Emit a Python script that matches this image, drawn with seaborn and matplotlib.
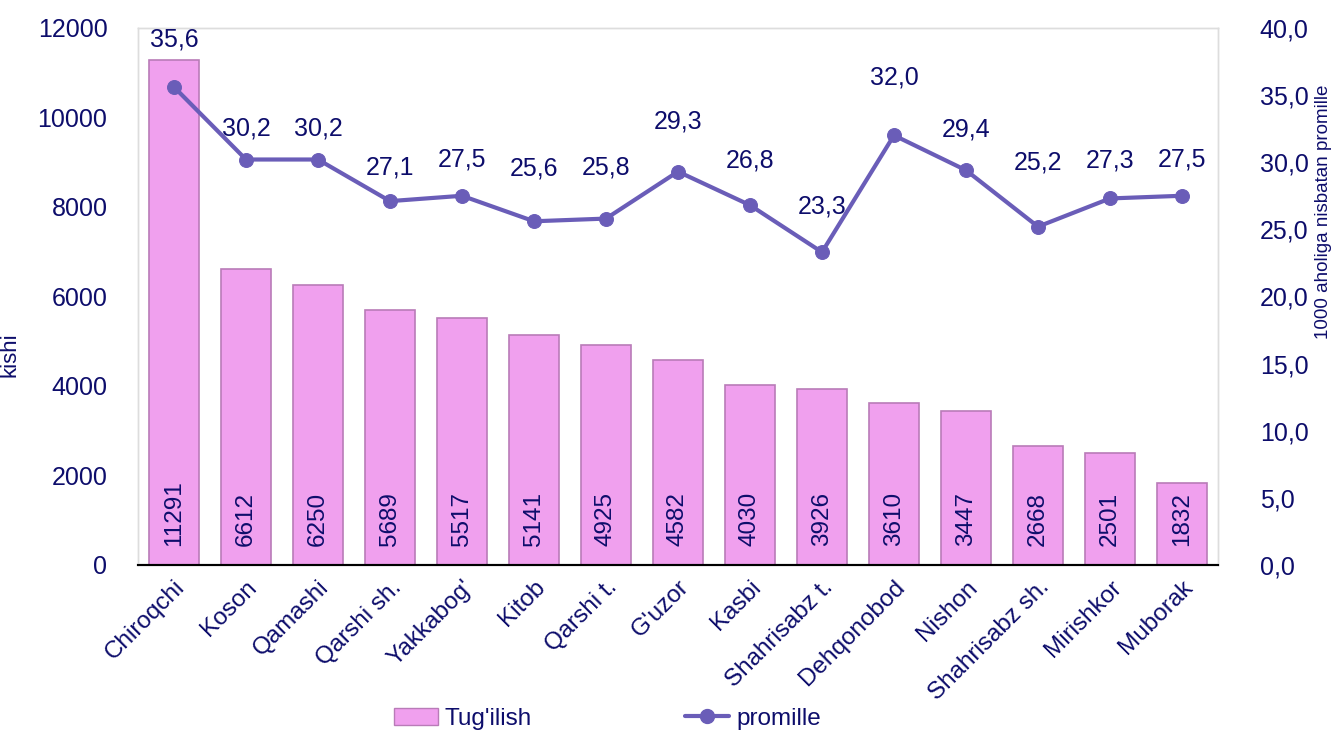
import matplotlib
matplotlib.use("Agg")
import matplotlib.pyplot as plt
import seaborn as sns
import pandas as pd
import numpy as np
from matplotlib.lines import Line2D
from matplotlib.patches import Patch

districts = ["Chiroqchi", "Koson", "Qamashi", "Qarshi sh.", "Yakkabog'", "Kitob",
             "Qarshi t.", "G'uzor", "Kasbi", "Shahrisabz t.", "Dehqonobod", "Nishon",
             "Shahrisabz sh.", "Mirishkor", "Muborak"]
births = [11291, 6612, 6250, 5689, 5517, 5141, 4925, 4582, 4030, 3926, 3610, 3447, 2668, 2501, 1832]
promille = [35.6, 30.2, 30.2, 27.1, 27.5, 25.6, 25.8, 29.3, 26.8, 23.3, 32.0, 29.4, 25.2, 27.3, 27.5]

# label offsets above the line points (points)
lbl_dy = [34, 22, 22, 24, 26, 38, 37, 36, 32, 33, 42, 29, 46, 27, 26]

navy = "#0D0D6B"
bar_col = "#F0A0EE"
bar_edge = "#B97BB8"
line_col = "#6A5DB8"

sns.set_theme(style="white")
plt.rcParams["font.family"] = ["Liberation Sans", "DejaVu Sans"]

df = pd.DataFrame({"tuman": districts, "tugilish": births, "promille": promille})
df["pos"] = np.arange(len(df))

fig = plt.figure(figsize=(13.32, 7.35), dpi=100)
ax = fig.add_axes([0.1036, 0.2313, 0.8108, 0.7307])

sns.barplot(data=df, x="tuman", y="tugilish", color=bar_col, width=0.7,
            edgecolor=bar_edge, linewidth=1.2, saturation=1, ax=ax)
ax.set_ylim(0, 12000)
ax.set_yticks(range(0, 12001, 2000))
ax.set_xlim(-0.5, len(df) - 0.5)

for i, v in enumerate(births):
    ax.text(i, 430, str(v), rotation=90, ha="center", va="bottom",
            fontsize=17.5, color=navy)

ax2 = ax.twinx()
sns.lineplot(data=df, x="pos", y="promille", color=line_col, linewidth=3,
             marker="o", markersize=10, markeredgecolor=line_col, ax=ax2)
ax2.set_ylim(0, 40)
ax2.set_yticks(np.arange(0, 40.1, 5))
ax2.set_yticklabels([f"{t:.1f}".replace(".", ",") for t in np.arange(0, 40.1, 5)])
ax2.set_xlim(-0.5, len(df) - 0.5)

for i, v in enumerate(promille):
    ax2.annotate(f"{v:.1f}".replace(".", ","), (i, v), xytext=(0, lbl_dy[i]),
                 textcoords="offset points", ha="center", va="center",
                 fontsize=18, color=navy)

ax.set_xticks(range(len(df)))
ax.set_xticklabels(districts, rotation=45, ha="right", rotation_mode="anchor",
                   fontsize=17.5, color=navy)
ax.tick_params(axis="x", length=0, pad=8)
ax.tick_params(axis="y", length=0, pad=22, labelsize=18, labelcolor=navy)
ax2.tick_params(axis="y", length=0, pad=30, labelsize=18, labelcolor=navy)

ax.set_xlabel("")
ax.set_ylabel("kishi", fontsize=16, color=navy)
ax.yaxis.set_label_coords(-0.109, 0.391)
ax2.set_ylabel("1000 aholiga nisbatan promille", fontsize=13.5, color=navy)
ax2.yaxis.set_label_coords(1.09, 0.657)

for a in (ax, ax2):
    for side in ("left", "top", "right"):
        a.spines[side].set_color("#DDDDDD")
        a.spines[side].set_linewidth(1)
    a.spines["bottom"].set_color("black")
    a.spines["bottom"].set_linewidth(1.5)

handles = [Patch(facecolor=bar_col, edgecolor=bar_edge, label="Tug'ilish"),
           Line2D([], [], color=line_col, linewidth=3, marker="o", markersize=10,
                  label="promille")]
fig.legend(handles=handles, loc="center", bbox_to_anchor=(0.456, 0.022), ncol=2,
           frameon=False, fontsize=17.5, labelcolor=navy, columnspacing=6.3,
           handlelength=1.8, handletextpad=0.3)

fig.savefig("out.png", dpi=100)
